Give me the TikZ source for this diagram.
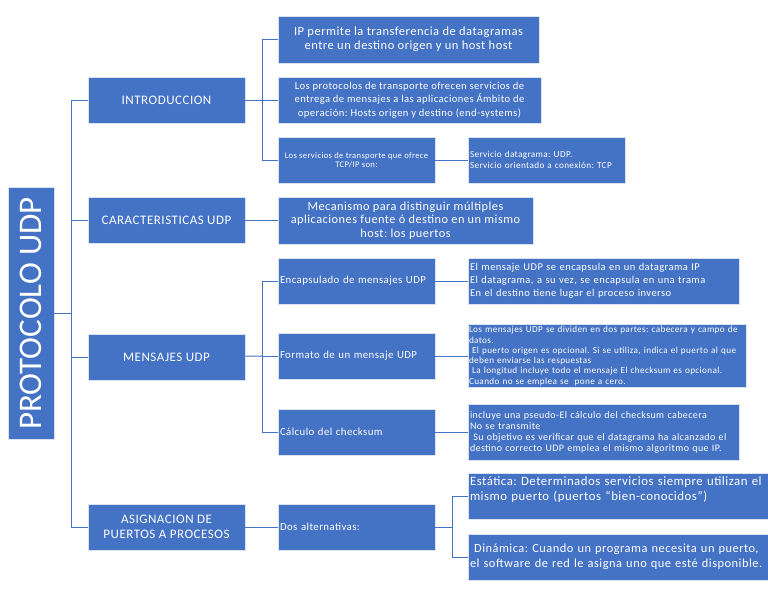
\documentclass[tikz,border=0pt]{standalone}
\usepackage{fontspec}
\setmainfont{Carlito}[LetterSpace=4]
\definecolor{udpblue}{HTML}{4472C4}
\frenchspacing

\begin{document}
\begin{tikzpicture}[x=1pt,y=-1pt,
	caja/.style={draw=white!80!udpblue, line width=0.6pt, fill=udpblue, text=white, inner sep=2pt, minimum height=46pt},
	tema/.style={caja, minimum width=157pt, align=center, font=\fontsize{13}{15}\selectfont},
	izq/.style={caja, align=left},
	linea/.style={draw=udpblue, line width=1pt}]
	\useasboundingbox (0,0) rectangle (768,594);

		\node(udp)  [caja, minimum width=252pt, rotate=90, font=\fontsize{33}{33}\selectfont\addfontfeatures{LetterSpace=0}] at (31,313.5) {PROTOCOLO UDP};

		\node(intro) [tema] at (166.5,100)   {INTRODUCCION};
		\node(carac) [tema] at (166.5,220.5) {CARACTERISTICAS UDP};
		\node(mens)  [tema] at (166.5,357)   {MENSAJES UDP};
		\node(asig)  [tema] at (166.5,527)   {ASIGNACION DE\\PUERTOS A PROCESOS};

		\node(intro_ip)   [caja, minimum width=261pt, minimum height=47pt, align=center, font=\fontsize{12.5}{14}\selectfont] at (408.5,39.5)
			{IP permite la transferencia de datagramas\\entre un destino origen y un host host};
		\node(intro_prot) [caja, minimum width=263pt, align=center, font=\fontsize{10.6}{13.3}\selectfont] at (409.5,100)
			{Los protocolos de transporte ofrecen servicios de\\entrega de mensajes a las aplicaciones Ámbito de\\operación: Hosts origen y destino (end-systems)};
		\node(intro_serv) [caja, minimum width=157pt, align=center, font=\fontsize{8.6}{9.5}\selectfont] at (356.5,160)
			{Los servicios de transporte que ofrece\\TCP/IP son:};
		\node(serv_tipos) [izq, minimum width=157pt, text width=153pt, font=\fontsize{9.2}{11}\selectfont] at (546.5,160)
			{Servicio datagrama: UDP.\\Servicio orientado a conexión: TCP};

		\node(carac_meca) [caja, minimum width=255pt, minimum height=47pt, align=center, font=\fontsize{12.3}{13.5}\selectfont] at (405.5,220.5)
			{Mecanismo para distinguir múltiples\\aplicaciones fuente ó destino en un mismo\\host: los puertos};

		\node(mens_enc)  [izq, minimum width=157pt, text width=153pt, font=\fontsize{10.8}{12}\selectfont] at (356.5,281) {Encapsulado de mensajes UDP};
		\node(mens_fmt)  [izq, minimum width=157pt, text width=153pt, font=\fontsize{10.8}{12}\selectfont] at (356.5,356) {Formato de un mensaje UDP};
		\node(mens_calc) [izq, minimum width=157pt, text width=153pt, font=\fontsize{10.8}{12}\selectfont] at (356.5,432) {Cálculo del checksum};

		\node(enc_det)  [izq, minimum width=271pt, text width=267pt, font=\fontsize{10.5}{13}\selectfont] at (603.5,281)
			{El mensaje UDP se encapsula en un datagrama IP\\El datagrama, a su vez, se encapsula en una trama\\En el destino tiene lugar el proceso inverso};
		\node(fmt_det)  [izq, minimum width=278pt, minimum height=63pt, text width=276pt, inner xsep=1pt, font=\fontsize{9.2}{10.3}\selectfont] at (607,356)
			{Los mensajes UDP se dividen en dos partes: cabecera y campo de\\datos.\\\ El puerto origen es opcional. Si se utiliza, indica el puerto al que\\deben enviarse las respuestas\\\ La longitud incluye todo el mensaje El checksum es opcional.\\Cuando no se emplea se\ \ pone a cero.};
		\node(calc_det) [izq, minimum width=271pt, minimum height=56pt, text width=267pt, font=\fontsize{10}{11}\selectfont] at (603.5,432)
			{incluye una pseudo-El cálculo del checksum cabecera\\No se transmite\\\ Su objetivo es verificar que el datagrama ha alcanzado el\\destino correcto UDP emplea el mismo algoritmo que IP.};

		\node(asig_dos) [izq, minimum width=157pt, text width=153pt, font=\fontsize{10.8}{12}\selectfont] at (356.5,527) {Dos alternativas:};
		\node(dos_est)  [izq, minimum width=302pt, text width=298pt, font=\fontsize{12.8}{15}\selectfont] at (619,496)
			{Estática: Determinados servicios siempre utilizan el\\mismo puerto (puertos “bien-conocidos”)\\\mbox{}};
		\node(dos_din)  [izq, minimum width=302pt, text width=298pt, font=\fontsize{12.4}{15}\selectfont] at (619,557)
			{\ Dinámica: Cuando un programa necesita un puerto,\\el software de red le asigna uno que esté disponible.};

		\coordinate(tronco)  at (71,313.5);
		\coordinate(b_intro) at (262,100);
		\coordinate(b_mens)  at (262,356);
		\coordinate(b_dos)   at (452,527);

		\draw[linea] (udp) -- (tronco);
		\draw[linea] (tronco) |- (intro);
		\draw[linea] (tronco) |- (carac);
		\draw[linea] (tronco) |- (mens);
		\draw[linea] (tronco) |- (asig);

		\draw[linea] (intro) -- (b_intro);
		\draw[linea] (b_intro) |- (intro_ip);
		\draw[linea] (b_intro) -- (intro_prot);
		\draw[linea] (b_intro) |- (intro_serv);
		\draw[linea] (intro_serv) -- (serv_tipos);

		\draw[linea] (carac) -- (carac_meca);

		\draw[linea] (mens) -- (b_mens);
		\draw[linea] (b_mens) |- (mens_enc);
		\draw[linea] (b_mens) -- (mens_fmt);
		\draw[linea] (b_mens) |- (mens_calc);
		\draw[linea] (mens_enc) -- (enc_det);
		\draw[linea] (mens_fmt) -- (fmt_det);
		\draw[linea] (mens_calc) -- (calc_det);

		\draw[linea] (asig) -- (asig_dos);
		\draw[linea] (asig_dos) -- (b_dos);
		\draw[linea] (b_dos) |- (dos_est);
		\draw[linea] (b_dos) |- (dos_din);
	\end{tikzpicture}
\end{document}
